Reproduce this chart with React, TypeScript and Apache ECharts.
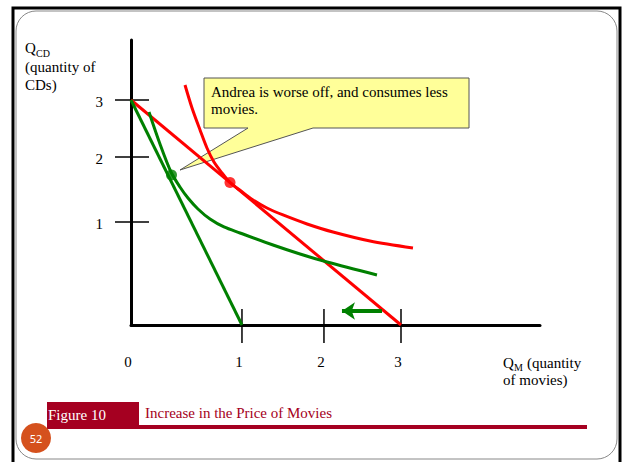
import React, { useEffect, useRef } from "react";
import * as echarts from "echarts";

const FONT = '"Liberation Serif", "Times New Roman", serif';

// Budget lines (quantity of movies, quantity of CDs) in axis units
const redBudget = [[0, 3], [3, 0]];
const greenBudget = [[0, 3], [1.233, 0]];

// Indifference curves
const redIC = [
  [0.6, 3.2], [0.678, 2.893], [0.767, 2.6], [0.844, 2.36], [0.922, 2.173], [1.011, 2.027],
  [1.1, 1.9], [1.222, 1.787], [1.356, 1.667], [1.511, 1.56], [1.689, 1.467], [1.956, 1.347],
  [2.244, 1.24], [2.656, 1.12], [3.133, 1.027],
];
const greenIC = [
  [0.2, 2.84], [0.322, 2.413], [0.444, 2.04], [0.544, 1.84], [0.633, 1.693], [0.744, 1.547],
  [0.878, 1.413], [1.033, 1.307], [1.211, 1.227], [1.578, 1.067], [1.878, 0.947], [2.178, 0.84],
  [2.733, 0.667],
];

// Optimum points
const redPoint = [[1.1, 1.9]];
const greenPoint = [[0.45, 2.0]];

// Shift arrow
const arrowFrom = [2.789, 0.187];
const arrowTo = [2.344, 0.187];

// Tick positions and labels
const xTickValues = [0, 1.233, 2.144, 3];
const xTickLabels = ["0", "1", "2", "3"];
const yTickValues = [1.373, 2.24, 3];
const yTickLabels = ["1", "2", "3"];

const X_MAX = 4.5444;
const Y_MAX = 3.8;

const RED = "#FF0000";
const GREEN = "#008000";
const MAROON = "#A50021";

function txt(text: string, x: number, y: number, opts: any = {}) {
  const align = opts.align || "left";
  const valign = opts.valign || "middle";
  return {
    type: "text",
    z: opts.z ?? 5,
    style: {
      text,
      x,
      y,
      fill: opts.fill || "#000",
      font: opts.font || `15px ${FONT}`,
      align,
      textAlign: align,
      verticalAlign: valign,
      textVerticalAlign: valign,
    },
  };
}

export default function App() {
  const ref = useRef<HTMLDivElement>(null);

  useEffect(() => {
    if (!ref.current) return;
    const chart = echarts.init(ref.current, null, { renderer: "svg" });

    const curve = (data: number[][], color: string) => ({
      type: "line",
      data,
      symbol: "none",
      smooth: 0.3,
      lineStyle: { color, width: 3 },
      z: 4,
    });

    const option: any = {
      animation: false,
      backgroundColor: "#fff",
      grid: { left: 131, top: 40, width: 409, height: 285 },
      xAxis: {
        type: "value",
        min: 0,
        max: X_MAX,
        axisLine: { show: true, onZero: false, lineStyle: { color: "#000", width: 3 } },
        axisTick: { show: false },
        axisLabel: { show: false },
        splitLine: { show: false },
      },
      yAxis: {
        type: "value",
        min: 0,
        max: Y_MAX,
        axisLine: { show: true, onZero: false, lineStyle: { color: "#000", width: 3 } },
        axisTick: { show: false },
        axisLabel: { show: false },
        splitLine: { show: false },
      },
      series: [
        {
          type: "custom",
          clip: false,
          z: 3,
          data: xTickValues.map((v, i) => [v, 0, i]),
          encode: { x: 0, y: 1 },
          renderItem: (params: any, api: any) => {
            const v = api.value(0);
            const i = api.value(2);
            const p = api.coord([v, 0]);
            const children: any[] = [];
            if (v > 0) {
              children.push({
                type: "line",
                shape: { x1: p[0], y1: p[1] - 16, x2: p[0], y2: p[1] + 18 },
                style: { stroke: "#000", lineWidth: 1.5 },
              });
            }
            children.push({
              type: "text",
              style: {
                text: xTickLabels[i],
                x: p[0] - 3,
                y: p[1] + 37,
                fill: "#000",
                font: `15px ${FONT}`,
                align: "center",
                textAlign: "center",
                verticalAlign: "middle",
                textVerticalAlign: "middle",
              },
            });
            return { type: "group", children };
          },
        },
        {
          type: "custom",
          clip: false,
          z: 3,
          data: yTickValues.map((v, i) => [0, v, i]),
          encode: { x: 0, y: 1 },
          renderItem: (params: any, api: any) => {
            const v = api.value(1);
            const i = api.value(2);
            const p = api.coord([0, v]);
            return {
              type: "group",
              children: [
                {
                  type: "line",
                  shape: { x1: p[0] - 16, y1: p[1], x2: p[0] + 18, y2: p[1] },
                  style: { stroke: "#000", lineWidth: 1.5 },
                },
                {
                  type: "text",
                  style: {
                    text: yTickLabels[i],
                    x: p[0] - 28,
                    y: p[1] + 2,
                    fill: "#000",
                    font: `15px ${FONT}`,
                    align: "right",
                    textAlign: "right",
                    verticalAlign: "middle",
                    textVerticalAlign: "middle",
                  },
                },
              ],
            };
          },
        },
        {
          type: "line",
          data: redBudget,
          symbol: "none",
          lineStyle: { color: RED, width: 3 },
          z: 4,
        },
        {
          type: "line",
          data: greenBudget,
          symbol: "none",
          lineStyle: { color: GREEN, width: 3 },
          z: 4,
        },
        curve(redIC, RED),
        curve(greenIC, GREEN),
        {
          type: "scatter",
          data: redPoint,
          symbolSize: 11,
          itemStyle: { color: RED },
          z: 5,
        },
        {
          type: "scatter",
          data: greenPoint,
          symbolSize: 11,
          itemStyle: { color: GREEN },
          z: 5,
        },
        {
          type: "lines",
          coordinateSystem: "cartesian2d",
          symbol: ["none", "arrow"],
          symbolSize: 13,
          lineStyle: { color: GREEN, width: 4, opacity: 1 },
          data: [{ coords: [arrowFrom, arrowTo] }],
          z: 5,
        },
      ],
      graphic: [
        {
          type: "rect",
          z: 0,
          shape: { x: 13, y: 8, width: 607, height: 480 },
          style: { fill: "transparent", stroke: "#000", lineWidth: 3 },
        },
        {
          type: "rect",
          z: 0,
          shape: { x: 16, y: 11, width: 601, height: 448, r: 20 },
          style: { fill: "transparent", stroke: "#888", lineWidth: 1 },
        },
        {
          type: "polygon",
          z: 1,
          shape: {
            points: [
              [204, 78],
              [469, 78],
              [469, 128],
              [313, 128],
              [180, 170],
              [248, 128],
              [204, 128],
            ],
          },
          style: { fill: "#FFFF99", stroke: "#555", lineWidth: 1 },
        },
        txt("Andrea is worse off, and consumes less", 211, 92),
        txt("movies.", 211, 109),
        txt("Q", 25, 48),
        txt("CD", 36, 53, { font: `10px ${FONT}` }),
        txt("(quantity of", 25, 67),
        txt("CDs)", 25, 85),
        txt("Q", 503, 363),
        txt("M", 514, 367, { font: `10px ${FONT}` }),
        txt("(quantity", 527, 363),
        txt("of movies)", 503, 380),
        {
          type: "rect",
          z: 2,
          shape: { x: 47, y: 402, width: 92, height: 27 },
          style: { fill: MAROON },
        },
        {
          type: "rect",
          z: 2,
          shape: { x: 139, y: 425, width: 448, height: 4 },
          style: { fill: MAROON },
        },
        txt("Figure 10", 48, 415, { fill: "#fff" }),
        txt("Increase in the Price of Movies", 145, 413, { fill: MAROON }),
        {
          type: "circle",
          z: 3,
          shape: { cx: 36, cy: 438, r: 15 },
          style: { fill: "#D5511D" },
        },
        txt("52", 36, 438, { fill: "#fff", align: "center", font: `11px "Noto Sans", sans-serif` }),
      ],
    };

    chart.setOption(option);
    return () => chart.dispose();
  }, []);

  return (
    <div
      ref={ref}
      style={{ position: "absolute", left: 0, top: 0, width: 622, height: 462 }}
    />
  );
}
